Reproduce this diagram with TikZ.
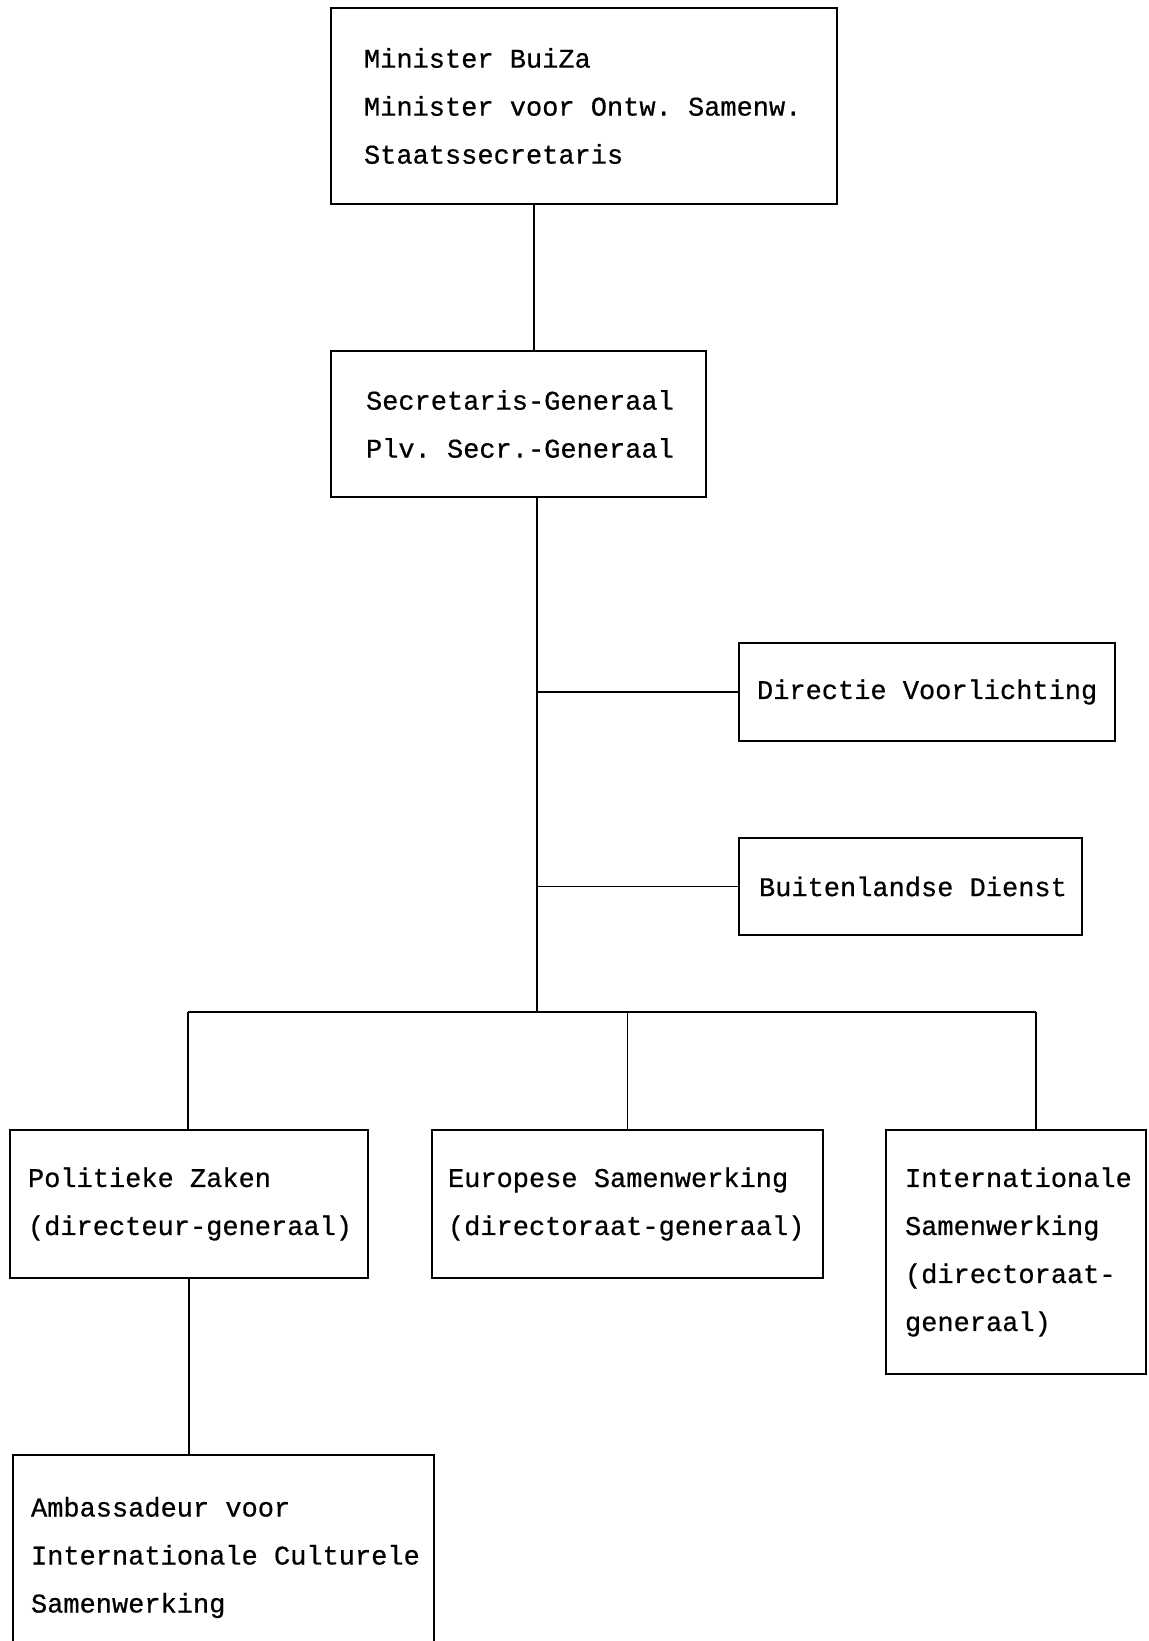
\documentclass[tikz,border=0pt]{standalone}
\usepackage{fontspec}
\newfontfamily\typewriter[FakeBold=0.6]{Liberation Mono}
\usepackage{tikz}
\usetikzlibrary{positioning}

\begin{document}
\begin{tikzpicture}[x=0.5pt, y=-0.5pt, line width=0.8pt]
    % Define styles
    \tikzstyle{unit} = [rectangle, draw=black, align=left, font=\typewriter\fontsize{13.5}{24}\selectfont, inner xsep=0pt, inner ysep=0pt]
    \tikzstyle{inset} = [execute at begin node={\leftskip=#1\spaceskip=\fontdimen2\font\xspaceskip=\fontdimen2\font}]

    \useasboundingbox (0,0) rectangle (1148,1641);
    \clip (0,0) rectangle (1148,1641);

    % Nodes
    \node[unit, text width=253pt, minimum height=98pt, inset=16.5pt] (minister) at (584,106) {Minister BuiZa\\Minister voor Ontw. Samenw.\\Staatssecretaris};
    \node[unit, text width=187.5pt, minimum height=73pt, inset=17.5pt] (sec_gen) at (518.5,424) {Secretaris-Generaal\\Plv. Secr.-Generaal};
    \node[unit, text width=188pt, minimum height=49pt, inset=9pt] (voorlichting) at (927,692) {Directie Voorlichting};
    \node[unit, text width=171.5pt, minimum height=48.5pt, inset=10pt] (buitendienst) at (910.5,886.5) {Buitenlandse Dienst};
    \node[unit, text width=179pt, minimum height=74pt, inset=9pt] (pol_zaken) at (189,1204) {Politieke Zaken\\(directeur-generaal)};
    \node[unit, text width=195.5pt, minimum height=74pt, inset=8pt] (eur_samenw) at (627.5,1204) {Europese Samenwerking\\(directoraat-generaal)};
    \node[unit, text width=130pt, minimum height=122pt, inset=9.5pt] (int_samenw) at (1016,1252) {Internationale\\Samenwerking\\(directoraat-\\generaal)};
    \node[unit, text width=210.5pt, minimum height=102.5pt, inset=9pt] (ambassadeur) at (223.5,1557.5) {Ambassadeur voor\\Internationale Culturele\\Samenwerking};

    \coordinate (stem) at (534,300);
    \coordinate (trunk) at (537,1012);
    \coordinate (bar_left) at (188,1012);
    \coordinate (bar_right) at (1036,1012);

    % Connections
    \draw (minister.south -| stem) -- (sec_gen.north -| stem);
    \draw (sec_gen.south -| trunk) -- (trunk);
    \draw (voorlichting.west -| trunk) -- (voorlichting.west);
    \draw (buitendienst.west -| trunk) -- (buitendienst.west);
    \draw (bar_left) -- (bar_right);
    \draw (bar_left) -- (pol_zaken.north -| bar_left);
    \draw (eur_samenw.north |- trunk) -- (eur_samenw.north);
    \draw (bar_right) -- (int_samenw.north -| bar_right);
    \draw (pol_zaken.south) -- (pol_zaken.south |- ambassadeur.north);
\end{tikzpicture}
\end{document}
